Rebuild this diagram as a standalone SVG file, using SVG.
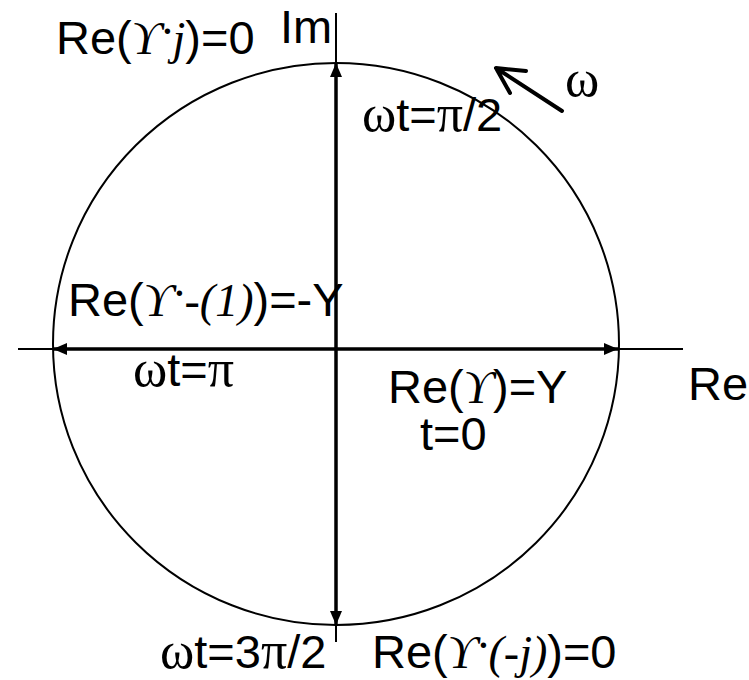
<svg xmlns="http://www.w3.org/2000/svg" width="749" height="680" viewBox="0 0 749 680">
<style>
.sans{font-family:"Liberation Sans",Arial,sans-serif;font-size:47px;fill:#000}
.ser{font-family:"Liberation Serif","DejaVu Serif",serif;font-size:52px;fill:#000}
.it{font-family:"Liberation Serif","DejaVu Serif",serif;font-style:italic;font-size:46px;fill:#000}
.thin{stroke:#000;stroke-width:2;fill:none}
.thick{stroke:#000;stroke-width:3.5;fill:none}
</style>
<defs>
<marker id="ah" viewBox="0 0 14 12" refX="14" refY="6" markerWidth="14" markerHeight="12" markerUnits="userSpaceOnUse" orient="auto">
<path d="M0,0 L14,6 L0,12 Z" fill="#000"/>
</marker>
</defs>
<rect width="749" height="680" fill="#fff"/>
<g id="circle">
<ellipse cx="336" cy="344" rx="283" ry="281" class="thin"/>
</g>
<g id="connectors">
<line x1="336" y1="13" x2="336" y2="63" class="thin"/>
<line x1="336" y1="625" x2="336" y2="642" class="thin"/>
<line x1="18" y1="349" x2="53" y2="349" class="thin"/>
<line x1="618" y1="349" x2="683" y2="349" class="thin"/>
<line x1="336" y1="349" x2="336" y2="63" class="thick" marker-end="url(#ah)"/>
<line x1="336" y1="349" x2="336" y2="625" class="thick" marker-end="url(#ah)"/>
<line x1="336" y1="349" x2="53" y2="349" class="thick" marker-end="url(#ah)"/>
<line x1="336" y1="349" x2="618" y2="349" class="thick" marker-end="url(#ah)"/>
<g id="omega-arrow">
<path d="M562,111 L496,68 M496,68 L526,71 M496,68 L510,93" stroke="#000" stroke-width="4" stroke-linecap="round" fill="none"/>
</g>
</g>
<g id="label-im"><text x="280" y="43" class="sans" font-size="45">Im</text></g>
<g id="label-re-axis"><text x="688" y="400" class="sans" font-size="43">Re</text></g>
<g id="label-omega"><text x="565" y="96" class="ser" font-size="58">ω</text></g>
<g id="label-top"><text x="56" y="54" class="sans">Re(<tspan class="it">ϒ</tspan><tspan class="it" dy="-7">·</tspan><tspan class="it" dy="7">j</tspan>)=0</text></g>
<g id="label-wt-pi2"><text x="362" y="131" class="sans"><tspan class="ser">ω</tspan>t=<tspan class="ser">π</tspan>/2</text></g>
<g id="label-left"><text x="68" y="316" class="sans">Re(<tspan class="it">ϒ</tspan><tspan class="it" dy="-7">·</tspan><tspan class="it" dy="7" font-size="38">-(1)</tspan>)=-Y</text></g>
<g id="label-wt-pi"><text x="133" y="386" class="sans"><tspan class="ser">ω</tspan>t=<tspan class="ser" font-size="58">π</tspan></text></g>
<g id="label-right"><text x="388" y="403" class="sans">Re(<tspan class="it">ϒ</tspan>)=Y</text></g>
<g id="label-t0"><text x="420" y="450" class="sans">t=0</text></g>
<g id="label-wt-3pi2"><text x="160" y="668" class="sans" font-size="45"><tspan class="ser" font-size="48">ω</tspan>t=3<tspan class="ser" font-size="48">π</tspan>/2</text></g>
<g id="label-bottom"><text x="372" y="668" class="sans">Re(<tspan class="it">ϒ</tspan><tspan class="it" dy="-7">·</tspan><tspan class="it" dy="7" font-size="44">(-j)</tspan>)=0</text></g>
</svg>
